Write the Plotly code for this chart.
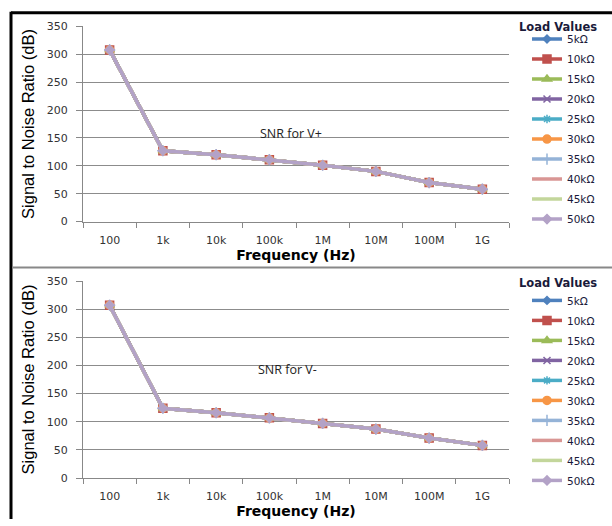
import plotly.graph_objects as go

W, H = 612, 526
freq = ["100", "1k", "10k", "100k", "1M", "10M", "100M", "1G"]
loads = ["5kΩ", "10kΩ", "15kΩ", "20kΩ", "25kΩ", "30kΩ", "35kΩ", "40kΩ", "45kΩ", "50kΩ"]
snr_vplus = [308, 127, 120, 111, 101, 90, 70, 58]
snr_vminus = [307, 124, 116, 107, 97, 87, 71, 58]
y_ticks = [0, 50, 100, 150, 200, 250, 300, 350]

colors = ["#4F81BD", "#C0504D", "#9BBB59", "#8064A2", "#4BACC6",
          "#F79646", "#95B3D7", "#D99694", "#C3D69B", "#B3A2C7"]
symbols = ["diamond", "square", "triangle-up", "x-thin-open", "asterisk-open",
           "circle", "cross-thin-open", None, None, "diamond"]
msizes = [6, 8, 8, 7, 7, 8, 8, 0, 0, 7]

def px(x):
    return x / W

def py(y):
    return 1 - y / H

fig = go.Figure()
for panel, (vals, xa, ya, leg) in enumerate([(snr_vplus, "x", "y", "legend"),
                                              (snr_vminus, "x2", "y2", "legend2")]):
    for i, name in enumerate(loads):
        mode = "lines+markers" if symbols[i] else "lines"
        marker = dict(symbol=symbols[i], size=msizes[i], color=colors[i],
                      line=dict(color=colors[i], width=1.5)) if symbols[i] else None
        fig.add_trace(go.Scatter(
            x=freq, y=vals, name=name, mode=mode, xaxis=xa, yaxis=ya,
            line=dict(color=colors[i], width=3.5), marker=marker,
            legend=leg, legendgroup=f"{panel}-{i}", showlegend=True))

axis_font = dict(family="DejaVu Sans", size=11, color="#333333")
xcommon = dict(type="category", range=[-0.5, 7.5], tickson="boundaries",
               showgrid=False, showline=True, linecolor="#888888", linewidth=1,
               ticks="outside", ticklen=5, tickcolor="#888888",
               tickfont=axis_font, zeroline=False, ticklabelstandoff=8,
               title=dict(text="<b>Frequency (Hz)</b>", standoff=3,
                          font=dict(family="DejaVu Sans", size=14, color="#000000")))
ycommon = dict(range=[0, 350], tickvals=y_ticks, showgrid=True, gridcolor="#8c8c8c",
               gridwidth=1, showline=True, linecolor="#888888", linewidth=1,
               ticks="outside", ticklen=6, tickcolor="#888888", tickfont=axis_font,
               zeroline=False, ticklabelstandoff=6,
               title=dict(text="Signal to Noise Ratio (dB)", standoff=8,
                          font=dict(family="Liberation Sans", size=16.5, color="#000000")))

xl, xr = px(83), px(509)
legfont = dict(family="DejaVu Sans", size=10.5, color="#1a1a3a")
fig.update_layout(
    width=W, height=H, margin=dict(l=0, r=0, t=0, b=0),
    paper_bgcolor="white", plot_bgcolor="white",
    xaxis=dict(domain=[xl, xr], anchor="y", **xcommon),
    yaxis=dict(domain=[py(221), py(21)], anchor="x", **ycommon),
    xaxis2=dict(domain=[xl, xr], anchor="y2", **xcommon),
    yaxis2=dict(domain=[py(484), py(282)], anchor="x2", **ycommon),
    legend=dict(x=px(527), y=py(19), xanchor="left", yanchor="top",
                font=legfont, tracegroupgap=1, itemwidth=30, bgcolor="rgba(0,0,0,0)"),
    legend2=dict(x=px(527), y=py(287), xanchor="left", yanchor="top",
                 font=legfont, tracegroupgap=1, itemwidth=30, bgcolor="rgba(0,0,0,0)"),
    annotations=[
        dict(text="<b>Load Values</b>", x=px(517), y=py(22), xref="paper", yref="paper",
             xanchor="left", yanchor="middle", showarrow=False,
             font=dict(family="DejaVu Sans", size=11.5, color="#1a1a3a")),
        dict(text="<b>Load Values</b>", x=px(517), y=py(284), xref="paper", yref="paper",
             xanchor="left", yanchor="middle", showarrow=False,
             font=dict(family="DejaVu Sans", size=11.5, color="#1a1a3a")),
        dict(text="SNR for V+", x=px(291), y=py(120), xref="paper", yref="paper",
             showarrow=False, font=dict(family="Open Sans", size=12.5, color="#222222")),
        dict(text="SNR for V-", x=px(287), y=py(383), xref="paper", yref="paper",
             showarrow=False, font=dict(family="Open Sans", size=12.5, color="#222222")),
    ],
    shapes=[
        dict(type="line", xref="paper", yref="paper", x0=px(11), x1=1, y0=py(7), y1=py(7),
             line=dict(color="black", width=3)),
        dict(type="line", xref="paper", yref="paper", x0=px(11), x1=px(11), y0=py(6), y1=0,
             line=dict(color="black", width=3)),
        dict(type="line", xref="paper", yref="paper", x0=px(12), x1=1, y0=py(268), y1=py(268),
             line=dict(color="#888888", width=2)),
    ],
)

fig.write_html("out.html")
